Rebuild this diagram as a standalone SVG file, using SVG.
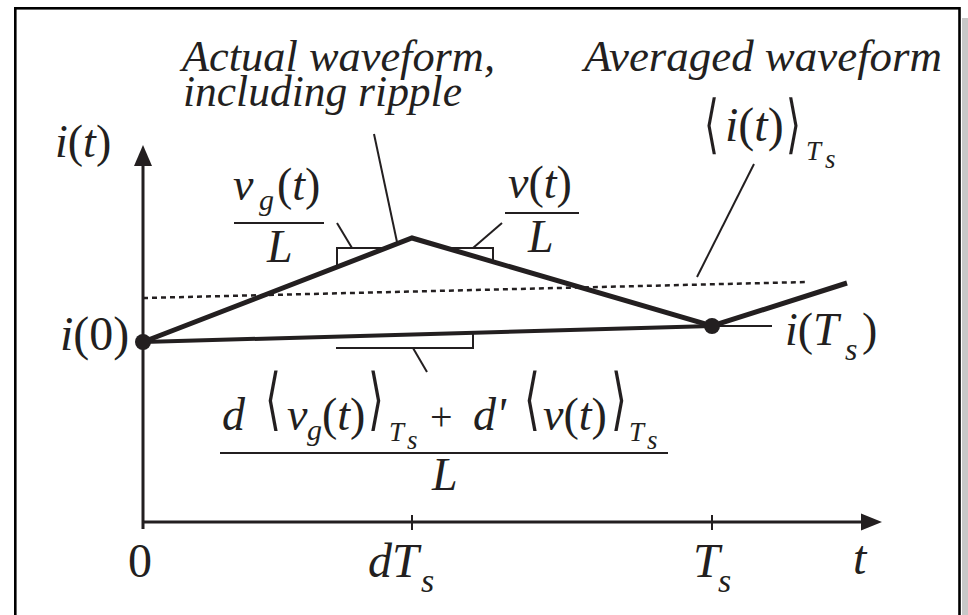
<svg xmlns="http://www.w3.org/2000/svg" width="968" height="615" viewBox="0 0 968 615">
<defs>
<style>
.t{fill:#231f20}
.i{font-style:italic}
.br{fill:#231f20}
.ln{stroke:#231f20;fill:none}
.thin{stroke-width:2}
.ax{stroke-width:3}
.dot{fill:#231f20}
</style>
</defs>
<rect width="968" height="615" fill="#fff"/>
<g id="frame">
<rect x="962" y="18" width="6" height="600" fill="#c8c8c8"/>
<rect x="15.3" y="8.3" width="944.2" height="640" fill="#fff" stroke="#000" stroke-width="2.6"/>
</g>
<g id="axes">
<line class="ln ax" x1="143" y1="529" x2="143" y2="162"/>
<polygon class="dot" points="143,145 134,166 152,166"/>
<line class="ln ax" x1="143" y1="522" x2="866" y2="522"/>
<polygon class="dot" points="882,522 861,513.5 861,530.5"/>
<line class="ln thin" x1="412" y1="515" x2="412" y2="530"/>
<line class="ln thin" x1="712" y1="515" x2="712" y2="530"/>
</g>
<g id="connectors">
<line class="ln" x1="143" y1="298" x2="807" y2="282" stroke-width="2.5" stroke-dasharray="5 4"/>
<line class="ln" x1="143" y1="342" x2="712" y2="326" stroke-width="4"/>
<polyline class="ln" points="143,342 412,238 712,326 847,283" stroke-width="5"/>
<line class="ln thin" x1="712" y1="326" x2="772" y2="326"/>
<polyline class="ln thin" points="337,267 337,248 386,248"/>
<line class="ln thin" x1="352" y1="248" x2="337" y2="223"/>
<polyline class="ln thin" points="446,248 493,248 493,262"/>
<line class="ln thin" x1="473" y1="248" x2="502" y2="223"/>
<polyline class="ln thin" points="336,348 473,348 473,333"/>
<line class="ln thin" x1="413" y1="348" x2="427" y2="372"/>
<line class="ln thin" x1="374" y1="134" x2="397" y2="242"/>
<line class="ln thin" x1="754" y1="164" x2="697" y2="277"/>
</g>
<g id="node-i0"><circle class="dot" cx="143" cy="342" r="8"/></g>
<g id="node-iTs"><circle class="dot" cx="712" cy="326" r="8"/></g>
<g font-size="46" font-family="Liberation Serif, Times New Roman, serif">
<g id="label-actual">
<text class="t i" font-size="44"><tspan x="182" y="71" textLength="313" lengthAdjust="spacingAndGlyphs">Actual waveform,</tspan><tspan x="183" y="106" textLength="279" lengthAdjust="spacingAndGlyphs">including ripple</tspan></text>
</g>
<g id="label-averaged">
<text class="t i" x="584" y="71" font-size="44" textLength="358" lengthAdjust="spacingAndGlyphs">Averaged waveform</text>
<text class="br" font-family="DejaVu Serif, serif" transform="translate(704,146) scale(0.6,1)" font-size="64">⟨</text>
<text class="t" x="725" y="141" font-size="48"><tspan class="i">i</tspan>(<tspan class="i">t</tspan>)</text>
<text class="br" font-family="DejaVu Serif, serif" transform="translate(786,146) scale(0.6,1)" font-size="64">⟩</text>
<text class="t i" x="806" y="160" font-size="27">T</text>
<text class="t i" x="825" y="168" font-size="27">s</text>
</g>
<g id="label-it">
<text class="t" x="55" y="157"><tspan class="i">i</tspan>(<tspan class="i">t</tspan>)</text>
</g>
<g id="label-i0">
<text class="t" x="60" y="350" font-size="48"><tspan class="i">i</tspan>(0)</text>
</g>
<g id="label-vgL">
<text class="t i" x="233" y="200">v</text>
<text class="t i" x="259" y="210" font-size="30">g</text>
<text class="t" x="277" y="200">(<tspan class="i">t</tspan>)</text>
<line class="ln thin" x1="234" y1="223" x2="324" y2="223"/>
<text class="t i" x="267" y="262">L</text>
</g>
<g id="label-vL">
<text class="t" x="508" y="198"><tspan class="i">v</tspan>(<tspan class="i">t</tspan>)</text>
<line class="ln thin" x1="505" y1="213" x2="579" y2="213"/>
<text class="t i" x="528" y="252">L</text>
</g>
<g id="label-avg-slope">
<text class="t i" x="222" y="430">d</text>
<text class="br" font-family="DejaVu Serif, serif" transform="translate(265,422) scale(0.6,1)" font-size="68">⟨</text>
<text class="t i" x="287" y="430">v</text>
<text class="t i" x="307" y="440" font-size="30">g</text>
<text class="t" x="322" y="430">(<tspan class="i">t</tspan>)</text>
<text class="br" font-family="DejaVu Serif, serif" transform="translate(368,422) scale(0.6,1)" font-size="68">⟩</text>
<text class="t i" x="389" y="441" font-size="27">T</text>
<text class="t i" x="407" y="449" font-size="27">s</text>
<text class="t" x="430" y="430" font-size="40">+</text>
<text class="t i" x="473" y="430">d'</text>
<text class="br" font-family="DejaVu Serif, serif" transform="translate(524,422) scale(0.6,1)" font-size="68">⟨</text>
<text class="t" x="543" y="430"><tspan class="i">v</tspan>(<tspan class="i">t</tspan>)</text>
<text class="br" font-family="DejaVu Serif, serif" transform="translate(611,422) scale(0.6,1)" font-size="68">⟩</text>
<text class="t i" x="629" y="441" font-size="27">T</text>
<text class="t i" x="647" y="449" font-size="27">s</text>
<line class="ln thin" x1="220" y1="453" x2="668" y2="453"/>
<text class="t i" x="432" y="490">L</text>
</g>
<g id="label-iTs">
<text class="t" x="785" y="345"><tspan class="i">i</tspan>(<tspan class="i">T</tspan></text>
<text class="t i" x="845" y="360" font-size="32">s</text>
<text class="t" x="862" y="345">)</text>
</g>
<g id="axis-labels">
<text class="t" x="140" y="577" font-size="48" text-anchor="middle">0</text>
<text class="t i" x="368" y="577" font-size="48">dT</text>
<text class="t i" x="421" y="592" font-size="34">s</text>
<text class="t i" x="693" y="577" font-size="48">T</text>
<text class="t i" x="718" y="592" font-size="34">s</text>
<text class="t i" x="853" y="574" font-size="48">t</text>
</g>
</g>
</svg>
